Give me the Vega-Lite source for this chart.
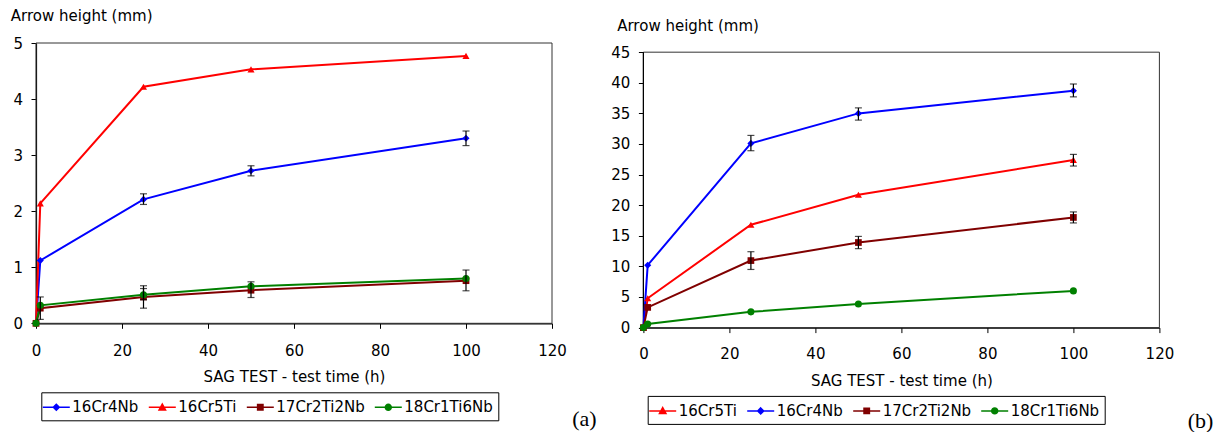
{
  "$schema": "https://vega.github.io/schema/vega-lite/v6.json",
  "background": "white",
  "padding": {"left": 10, "top": 8, "right": 5, "bottom": 0},
  "spacing": 13.4,
  "datasets": {
    "a": [
      {"series": "16Cr4Nb", "t": 0, "v": 0}, {"series": "16Cr4Nb", "t": 1, "v": 1.12}, {"series": "16Cr4Nb", "t": 25, "v": 2.21}, {"series": "16Cr4Nb", "t": 50, "v": 2.72}, {"series": "16Cr4Nb", "t": 100, "v": 3.3},
      {"series": "16Cr5Ti", "t": 0, "v": 0}, {"series": "16Cr5Ti", "t": 1, "v": 2.14}, {"series": "16Cr5Ti", "t": 25, "v": 4.22}, {"series": "16Cr5Ti", "t": 50, "v": 4.53}, {"series": "16Cr5Ti", "t": 100, "v": 4.77},
      {"series": "17Cr2Ti2Nb", "t": 0, "v": 0}, {"series": "17Cr2Ti2Nb", "t": 1, "v": 0.27}, {"series": "17Cr2Ti2Nb", "t": 25, "v": 0.47}, {"series": "17Cr2Ti2Nb", "t": 50, "v": 0.59}, {"series": "17Cr2Ti2Nb", "t": 100, "v": 0.76},
      {"series": "18Cr1Ti6Nb", "t": 0, "v": 0}, {"series": "18Cr1Ti6Nb", "t": 1, "v": 0.32}, {"series": "18Cr1Ti6Nb", "t": 25, "v": 0.51}, {"series": "18Cr1Ti6Nb", "t": 50, "v": 0.66}, {"series": "18Cr1Ti6Nb", "t": 100, "v": 0.8}
    ],
    "ea": [
      {"series": "16Cr4Nb", "t": 25, "lo": 2.12, "hi": 2.31}, {"series": "16Cr4Nb", "t": 50, "lo": 2.63, "hi": 2.81}, {"series": "16Cr4Nb", "t": 100, "lo": 3.17, "hi": 3.43},
      {"series": "17Cr2Ti2Nb", "t": 1, "lo": 0.07, "hi": 0.47}, {"series": "17Cr2Ti2Nb", "t": 25, "lo": 0.27, "hi": 0.67}, {"series": "17Cr2Ti2Nb", "t": 50, "lo": 0.46, "hi": 0.74}, {"series": "17Cr2Ti2Nb", "t": 100, "lo": 0.58, "hi": 0.95},
      {"series": "18Cr1Ti6Nb", "t": 25, "lo": 0.42, "hi": 0.62}
    ],
    "b": [
      {"series": "16Cr5Ti", "t": 0, "v": 0}, {"series": "16Cr5Ti", "t": 1, "v": 4.8}, {"series": "16Cr5Ti", "t": 25, "v": 16.8}, {"series": "16Cr5Ti", "t": 50, "v": 21.7}, {"series": "16Cr5Ti", "t": 100, "v": 27.4},
      {"series": "16Cr4Nb", "t": 0, "v": 0}, {"series": "16Cr4Nb", "t": 1, "v": 10.2}, {"series": "16Cr4Nb", "t": 25, "v": 30.1}, {"series": "16Cr4Nb", "t": 50, "v": 35.0}, {"series": "16Cr4Nb", "t": 100, "v": 38.7},
      {"series": "17Cr2Ti2Nb", "t": 0, "v": 0}, {"series": "17Cr2Ti2Nb", "t": 1, "v": 3.3}, {"series": "17Cr2Ti2Nb", "t": 25, "v": 10.95}, {"series": "17Cr2Ti2Nb", "t": 50, "v": 13.9}, {"series": "17Cr2Ti2Nb", "t": 100, "v": 18.0},
      {"series": "18Cr1Ti6Nb", "t": 0, "v": 0}, {"series": "18Cr1Ti6Nb", "t": 1, "v": 0.6}, {"series": "18Cr1Ti6Nb", "t": 25, "v": 2.57}, {"series": "18Cr1Ti6Nb", "t": 50, "v": 3.87}, {"series": "18Cr1Ti6Nb", "t": 100, "v": 6.0}
    ],
    "eb": [
      {"series": "16Cr4Nb", "t": 25, "lo": 28.9, "hi": 31.4}, {"series": "16Cr4Nb", "t": 50, "lo": 33.9, "hi": 35.9}, {"series": "16Cr4Nb", "t": 100, "lo": 37.7, "hi": 39.8},
      {"series": "16Cr5Ti", "t": 100, "lo": 26.4, "hi": 28.3},
      {"series": "17Cr2Ti2Nb", "t": 25, "lo": 9.5, "hi": 12.4}, {"series": "17Cr2Ti2Nb", "t": 50, "lo": 12.9, "hi": 14.9}, {"series": "17Cr2Ti2Nb", "t": 100, "lo": 17.1, "hi": 18.9}
    ],
    "frameA": [{"x0": 0, "x1": 120, "y0": 0, "y1": 5}],
    "frameB": [{"x0": 0, "x1": 120, "y0": 0, "y1": 45}]
  },
  "config": {
    "font": "DejaVu Sans",
    "view": {"stroke": null},
    "axis": {"grid": false, "domainColor": "black", "tickColor": "black", "labelColor": "black", "titleColor": "black", "labelFontSize": 15, "titleFontSize": 15, "titleFontWeight": "normal", "tickSize": 5, "domainWidth": 1.2, "labelFlush": false, "labelOverlap": false},
    "title": {"fontWeight": "normal"}
  },
  "hconcat": [
    {
      "width": 516, "height": 280.3,
      "title": {"text": "(a)", "orient": "bottom", "anchor": "end", "frame": "group", "font": "Liberation Serif", "fontSize": 22, "fontWeight": "normal", "color": "black", "dx": 44.6, "offset": -12, "baseline": "top"},
      "encoding": {
        "x": {"field": "t", "type": "quantitative", "scale": {"domain": [0, 120], "nice": false},
          "axis": {"values": [0, 20, 40, 60, 80, 100, 120], "title": "SAG TEST - test time (h)", "titleX": 258, "titleY": 57.7, "titleAlign": "center", "titleBaseline": "alphabetic", "labelBaseline": "alphabetic", "labelPadding": 26.7}},
        "y": {"field": "v", "type": "quantitative", "scale": {"domain": [0, 5], "nice": false},
          "axis": {"values": [0, 1, 2, 3, 4, 5], "title": "Arrow height (mm)", "titleAngle": 0, "titleAlign": "left", "titleBaseline": "alphabetic", "titleX": -25.7, "titleY": -22.3, "labelPadding": 8.5}}
      },
      "layer": [
        {
          "data": {"name": "frameA"},
          "mark": {"type": "rect", "fill": null, "fillOpacity": 0, "stroke": "#333333", "strokeWidth": 1},
          "encoding": {"x": {"field": "x0", "type": "quantitative"}, "x2": {"field": "x1"}, "y": {"field": "y0", "type": "quantitative"}, "y2": {"field": "y1"}}
        },
        {
          "data": {"name": "a"},
          "mark": {"type": "line", "strokeWidth": 2},
          "encoding": {
            "color": {"field": "series", "type": "nominal",
              "scale": {"domain": ["16Cr4Nb", "16Cr5Ti", "17Cr2Ti2Nb", "18Cr1Ti6Nb"], "range": ["#0000ff", "#ff0000", "#800000", "#008000"]},
              "legend": {"orient": "none", "legendX": 5.3, "legendY": 349.3, "direction": "horizontal", "columns": 4, "title": null, "strokeColor": "black", "padding": 5, "symbolSize": 324, "labelOffset": 6, "columnPadding": 6, "labelFontSize": 15, "labelColor": "black", "labelFont": "DejaVu Sans", "symbolStrokeWidth": 1.5,
                "encode": {"symbols": {"update": {
                  "shape": {"signal": "datum.value==='16Cr4Nb'?'M-1.5,0L1.5,0M0,-0.33L0.33,0L0,0.33L-0.33,0Z':datum.value==='16Cr5Ti'?'M-1.5,0L1.5,0M0,-0.36L0.36,0.3L-0.36,0.3Z':datum.value==='17Cr2Ti2Nb'?'M-1.5,0L1.5,0M-0.3,-0.3L0.3,-0.3L0.3,0.3L-0.3,0.3Z':'M-1.5,0L1.5,0M0.33,0A0.33,0.33,0,1,1,-0.33,0A0.33,0.33,0,1,1,0.33,0Z'"},
                  "fill": {"signal": "datum.value==='16Cr4Nb'?'#0000ff':datum.value==='16Cr5Ti'?'#ff0000':datum.value==='17Cr2Ti2Nb'?'#800000':'#008000'"},
                  "stroke": {"signal": "datum.value==='16Cr4Nb'?'#0000ff':datum.value==='16Cr5Ti'?'#ff0000':datum.value==='17Cr2Ti2Nb'?'#800000':'#008000'"},
                  "strokeWidth": {"value": 1.5}, "opacity": {"value": 1}, "fillOpacity": {"value": 1}, "strokeOpacity": {"value": 1}
                }}}}
            }
          }
        },
        {
          "data": {"name": "a"},
          "transform": [{"filter": "datum.series === '16Cr4Nb'"}],
          "mark": {"type": "point", "filled": true, "size": 50, "opacity": 1, "shape": "diamond"},
          "encoding": {"color": {"field": "series", "type": "nominal", "scale": {"domain": ["16Cr4Nb", "16Cr5Ti", "17Cr2Ti2Nb", "18Cr1Ti6Nb"], "range": ["#0000ff", "#ff0000", "#800000", "#008000"]}}}
        },
        {
          "data": {"name": "a"},
          "transform": [{"filter": "datum.series === '16Cr5Ti'"}],
          "mark": {"type": "point", "filled": true, "size": 50, "opacity": 1, "shape": "triangle-up"},
          "encoding": {"color": {"field": "series", "type": "nominal", "scale": {"domain": ["16Cr4Nb", "16Cr5Ti", "17Cr2Ti2Nb", "18Cr1Ti6Nb"], "range": ["#0000ff", "#ff0000", "#800000", "#008000"]}}}
        },
        {
          "data": {"name": "a"},
          "transform": [{"filter": "datum.series === '17Cr2Ti2Nb'"}],
          "mark": {"type": "point", "filled": true, "size": 45, "opacity": 1, "shape": "square"},
          "encoding": {"color": {"field": "series", "type": "nominal", "scale": {"domain": ["16Cr4Nb", "16Cr5Ti", "17Cr2Ti2Nb", "18Cr1Ti6Nb"], "range": ["#0000ff", "#ff0000", "#800000", "#008000"]}}}
        },
        {
          "data": {"name": "a"},
          "transform": [{"filter": "datum.series === '18Cr1Ti6Nb'"}],
          "mark": {"type": "point", "filled": true, "size": 50, "opacity": 1, "shape": "circle"},
          "encoding": {"color": {"field": "series", "type": "nominal", "scale": {"domain": ["16Cr4Nb", "16Cr5Ti", "17Cr2Ti2Nb", "18Cr1Ti6Nb"], "range": ["#0000ff", "#ff0000", "#800000", "#008000"]}}}
        },
        {
          "data": {"name": "ea"},
          "mark": {"type": "errorbar", "color": "black", "ticks": {"size": 7, "thickness": 1.2}, "rule": {"strokeWidth": 1.2}},
          "encoding": {
            "y": {"field": "lo", "type": "quantitative", "scale": {"domain": [0, 5], "nice": false}},
            "y2": {"field": "hi"}
          }
        }
      ]
    },
    {
      "width": 516, "height": 284.6,
      "title": {"text": "(b)", "orient": "bottom", "anchor": "end", "frame": "group", "font": "Liberation Serif", "fontSize": 22, "fontWeight": "normal", "color": "black", "dx": 54, "offset": -13.5, "baseline": "top"},
      "encoding": {
        "x": {"field": "t", "type": "quantitative", "scale": {"domain": [0, 120], "nice": false},
          "axis": {"values": [0, 20, 40, 60, 80, 100, 120], "title": "SAG TEST - test time (h)", "titleX": 258, "titleY": 57.7, "titleAlign": "center", "titleBaseline": "alphabetic", "labelBaseline": "alphabetic", "labelPadding": 25.6}},
        "y": {"field": "v", "type": "quantitative", "scale": {"domain": [0, 46.5], "nice": false},
          "axis": {"values": [0, 5, 10, 15, 20, 25, 30, 35, 40, 45], "domain": false, "title": "Arrow height (mm)", "titleAngle": 0, "titleAlign": "left", "titleBaseline": "alphabetic", "titleX": -26.7, "titleY": -12.4, "labelPadding": 8.5}}
      },
      "layer": [
        {
          "data": {"name": "frameB"},
          "mark": {"type": "rect", "fill": null, "fillOpacity": 0, "stroke": "#333333", "strokeWidth": 1},
          "encoding": {"x": {"field": "x0", "type": "quantitative"}, "x2": {"field": "x1"}, "y": {"field": "y0", "type": "quantitative"}, "y2": {"field": "y1"}}
        },
        {
          "data": {"name": "frameB"},
          "mark": {"type": "rule", "color": "black", "strokeWidth": 1.2},
          "encoding": {"x": {"field": "x0", "type": "quantitative"}, "y": {"field": "y0", "type": "quantitative"}, "y2": {"field": "y1"}}
        },
        {
          "data": {"name": "b"},
          "mark": {"type": "line", "strokeWidth": 2},
          "encoding": {
            "color": {"field": "series", "type": "nominal",
              "scale": {"domain": ["16Cr5Ti", "16Cr4Nb", "17Cr2Ti2Nb", "18Cr1Ti6Nb"], "range": ["#ff0000", "#0000ff", "#800000", "#008000"]},
              "legend": {"orient": "none", "legendX": 4.3, "legendY": 352.9, "direction": "horizontal", "columns": 4, "title": null, "strokeColor": "black", "padding": 5, "symbolSize": 324, "labelOffset": 6, "columnPadding": 6, "labelFontSize": 15, "labelColor": "black", "labelFont": "DejaVu Sans", "symbolStrokeWidth": 1.5,
                "encode": {"symbols": {"update": {
                  "shape": {"signal": "datum.value==='16Cr4Nb'?'M-1.5,0L1.5,0M0,-0.33L0.33,0L0,0.33L-0.33,0Z':datum.value==='16Cr5Ti'?'M-1.5,0L1.5,0M0,-0.36L0.36,0.3L-0.36,0.3Z':datum.value==='17Cr2Ti2Nb'?'M-1.5,0L1.5,0M-0.3,-0.3L0.3,-0.3L0.3,0.3L-0.3,0.3Z':'M-1.5,0L1.5,0M0.33,0A0.33,0.33,0,1,1,-0.33,0A0.33,0.33,0,1,1,0.33,0Z'"},
                  "fill": {"signal": "datum.value==='16Cr4Nb'?'#0000ff':datum.value==='16Cr5Ti'?'#ff0000':datum.value==='17Cr2Ti2Nb'?'#800000':'#008000'"},
                  "stroke": {"signal": "datum.value==='16Cr4Nb'?'#0000ff':datum.value==='16Cr5Ti'?'#ff0000':datum.value==='17Cr2Ti2Nb'?'#800000':'#008000'"},
                  "strokeWidth": {"value": 1.5}, "opacity": {"value": 1}, "fillOpacity": {"value": 1}, "strokeOpacity": {"value": 1}
                }}}}
            }
          }
        },
        {
          "data": {"name": "b"},
          "transform": [{"filter": "datum.series === '16Cr4Nb'"}],
          "mark": {"type": "point", "filled": true, "size": 50, "opacity": 1, "shape": "diamond"},
          "encoding": {"color": {"field": "series", "type": "nominal", "scale": {"domain": ["16Cr5Ti", "16Cr4Nb", "17Cr2Ti2Nb", "18Cr1Ti6Nb"], "range": ["#ff0000", "#0000ff", "#800000", "#008000"]}}}
        },
        {
          "data": {"name": "b"},
          "transform": [{"filter": "datum.series === '16Cr5Ti'"}],
          "mark": {"type": "point", "filled": true, "size": 50, "opacity": 1, "shape": "triangle-up"},
          "encoding": {"color": {"field": "series", "type": "nominal", "scale": {"domain": ["16Cr5Ti", "16Cr4Nb", "17Cr2Ti2Nb", "18Cr1Ti6Nb"], "range": ["#ff0000", "#0000ff", "#800000", "#008000"]}}}
        },
        {
          "data": {"name": "b"},
          "transform": [{"filter": "datum.series === '17Cr2Ti2Nb'"}],
          "mark": {"type": "point", "filled": true, "size": 45, "opacity": 1, "shape": "square"},
          "encoding": {"color": {"field": "series", "type": "nominal", "scale": {"domain": ["16Cr5Ti", "16Cr4Nb", "17Cr2Ti2Nb", "18Cr1Ti6Nb"], "range": ["#ff0000", "#0000ff", "#800000", "#008000"]}}}
        },
        {
          "data": {"name": "b"},
          "transform": [{"filter": "datum.series === '18Cr1Ti6Nb'"}],
          "mark": {"type": "point", "filled": true, "size": 50, "opacity": 1, "shape": "circle"},
          "encoding": {"color": {"field": "series", "type": "nominal", "scale": {"domain": ["16Cr5Ti", "16Cr4Nb", "17Cr2Ti2Nb", "18Cr1Ti6Nb"], "range": ["#ff0000", "#0000ff", "#800000", "#008000"]}}}
        },
        {
          "data": {"name": "eb"},
          "mark": {"type": "errorbar", "color": "black", "ticks": {"size": 7, "thickness": 1.2}, "rule": {"strokeWidth": 1.2}},
          "encoding": {
            "y": {"field": "lo", "type": "quantitative", "scale": {"domain": [0, 46.5], "nice": false}},
            "y2": {"field": "hi"}
          }
        }
      ]
    }
  ],
  "resolve": {"scale": {"x": "independent", "y": "independent", "color": "independent"}, "legend": {"color": "independent"}}
}
